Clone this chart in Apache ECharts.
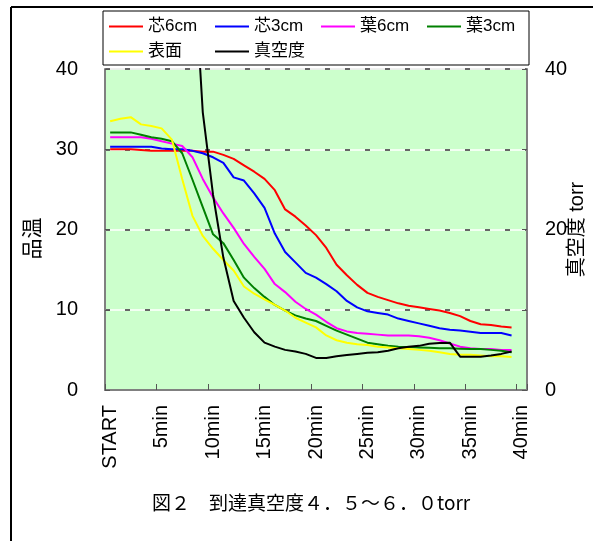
<!DOCTYPE html>
<html>
<head>
<meta charset="utf-8">
<script src="https://cdn.jsdelivr.net/npm/echarts@6/dist/echarts.min.js"></script>
<style>
  html, body { margin: 0; padding: 0; background: #fff; }
  #main { width: 593px; height: 541px; }
</style>
</head>
<body>
<div id="main"></div>
<script>
// 横軸 (1分ごと)
const categories = ['START', '1min', '2min', '3min', '4min', '5min', '6min', '7min', '8min', '9min',
  '10min', '11min', '12min', '13min', '14min', '15min', '16min', '17min', '18min', '19min',
  '20min', '21min', '22min', '23min', '24min', '25min', '26min', '27min', '28min', '29min',
  '30min', '31min', '32min', '33min', '34min', '35min', '36min', '37min', '38min', '39min', '40min']

// 品温
const core6 = [30.0, 30.0, 30.0, 29.9, 29.8, 29.8, 29.8, 29.8, 29.8, 29.7,
  29.7, 29.3, 28.8, 28.0, 27.2, 26.3, 24.9, 22.5, 21.6, 20.5,
  19.3, 17.7, 15.6, 14.3, 13.1, 12.1, 11.6, 11.2, 10.8, 10.5,
  10.3, 10.1, 9.9, 9.6, 9.2, 8.6, 8.2, 8.1, 7.9, 7.8]
const core3 = [30.3, 30.3, 30.3, 30.3, 30.3, 30.1, 30.0, 30.0, 29.8, 29.5,
  29.0, 28.3, 26.5, 26.1, 24.5, 22.7, 19.5, 17.2, 15.9, 14.6,
  14.0, 13.2, 12.3, 11.1, 10.3, 9.8, 9.6, 9.4, 8.9, 8.6,
  8.3, 8.0, 7.7, 7.5, 7.4, 7.25, 7.1, 7.1, 7.1, 6.8]
const leaf6 = [31.5, 31.5, 31.5, 31.5, 31.3, 31.0, 30.7, 30.4, 29.0, 26.3,
  24.0, 22.0, 20.2, 18.2, 16.6, 15.1, 13.2, 12.2, 11.0, 10.1,
  9.4, 8.5, 7.7, 7.3, 7.1, 7.0, 6.9, 6.8, 6.8, 6.8,
  6.7, 6.5, 6.2, 5.8, 5.4, 5.2, 5.1, 5.1, 5.0, 5.0]
const leaf3 = [32.1, 32.1, 32.1, 31.8, 31.5, 31.3, 31.0, 29.5, 26.2, 22.8,
  19.4, 18.3, 16.2, 14.0, 12.7, 11.6, 10.6, 9.9, 9.3, 8.9,
  8.6, 8.0, 7.4, 6.9, 6.4, 5.9, 5.7, 5.5, 5.4, 5.35,
  5.3, 5.25, 5.2, 5.2, 5.15, 5.1, 5.1, 5.0, 4.9, 4.7]
const surface = [33.5, 33.8, 34.0, 33.1, 32.9, 32.6, 31.2, 26.3, 21.7, 19.2,
  17.6, 16.2, 14.9, 12.9, 12.0, 11.3, 10.6, 9.9, 9.0, 8.4,
  7.8, 6.8, 6.2, 5.9, 5.7, 5.6, 5.4, 5.3, 5.2, 5.1,
  5.0, 4.9, 4.7, 4.5, 4.4, 4.4, 4.3, 4.2, 4.2, 4.1]
// 真空度 torr
const vacuum = [null, null, null, null, null, null, null, null, 56, 34.6,
  24.3, 16.5, 11.1, 9.0, 7.2, 5.9, 5.4, 5.0, 4.8, 4.5,
  4.0, 4.0, 4.2, 4.35, 4.5, 4.65, 4.7, 4.9, 5.2, 5.4,
  5.5, 5.75, 5.85, 5.9, 4.15, 4.15, 4.15, 4.3, 4.5, 4.8]

const leftTicks = [0, 10, 20, 30, 40]
const rightTicks = [0, 20, 40]

const FONT = 'Liberation Sans, Arial, Noto Sans CJK JP'

const mk = (name, data, color, axis) => ({
  name,
  type: 'line',
  data,
  yAxisIndex: axis,
  symbol: 'none',
  connectNulls: false,
  lineStyle: { color, width: 2 },
  itemStyle: { color },
  animation: false
})

const chart = echarts.init(document.getElementById('main'))
chart.setOption({
  backgroundColor: '#fff',
  animation: false,
  grid: {
    left: 105, right: 66, top: 69, bottom: 151,
    outerBoundsMode: 'none',
    containLabel: false,
    show: true,
    backgroundColor: '#ccffcc',
    borderColor: '#808080',
    borderWidth: 1
  },
  legend: {
    left: 103, top: 11,
    width: 424,
    padding: [6, 2, 4, 6],
    itemGap: 6,
    itemWidth: 34,
    itemHeight: 2,
    icon: 'rect',
    symbolKeepAspect: false,
    borderColor: '#000',
    borderWidth: 1,
    borderRadius: 0,
    backgroundColor: '#fff',
    textStyle: { fontSize: 17, fontFamily: FONT, color: '#000', width: 61, lineHeight: 19 },
    data: ['芯6cm', '芯3cm', '葉6cm', '葉3cm', '表面', '真空度']
  },
  xAxis: {
    type: 'category',
    data: categories,
    boundaryGap: true,
    axisLine: { lineStyle: { color: '#808080', width: 2 } },
    axisTick: { show: true, inside: true, length: 6, interval: 4, lineStyle: { color: '#555' } },
    axisLabel: {
      interval: 4,
      rotate: 90,
      margin: 15,
      fontSize: 20,
      fontFamily: FONT,
      color: '#000'
    },
    splitLine: { show: false }
  },
  yAxis: [
    {
      type: 'value',
      min: 0, max: 40, interval: 10,
      position: 'left',
      name: '品温',
      nameLocation: 'middle',
      nameRotate: 90,
      nameGap: 63,
      nameMoveOverlap: false,
      nameTextStyle: { fontSize: 21, fontFamily: 'Noto Sans CJK JP', color: '#000', padding: [0, 18, 0, 0] },
      axisLine: { show: true, lineStyle: { color: '#808080', width: 2 } },
      axisTick: { show: true, inside: true, length: 5, lineStyle: { color: '#555' } },
      axisLabel: {
        margin: 27, fontSize: 20, fontFamily: FONT, color: '#000',
        formatter: v => leftTicks.includes(v) ? String(v) : ''
      },
      splitLine: { show: true, lineStyle: { color: '#ffffff', width: 1.5 } }
    },
    {
      type: 'value',
      min: 0, max: 40, interval: 10,
      position: 'right',
      name: '真空度 torr',
      nameLocation: 'middle',
      nameRotate: 90,
      nameGap: 40,
      nameMoveOverlap: false,
      nameTextStyle: { fontSize: 20, fontFamily: FONT, color: '#000' },
      axisLine: { show: true, lineStyle: { color: '#808080', width: 2 } },
      axisTick: { show: true, inside: true, length: 5, lineStyle: { color: '#555' } },
      axisLabel: {
        margin: 18, fontSize: 20, fontFamily: FONT, color: '#000',
        formatter: v => rightTicks.includes(v) ? String(v) : ''
      },
      splitLine: { show: true, lineStyle: { color: '#666', width: 2, type: [5, 15] } }
    }
  ],
  series: [
    mk('芯6cm', core6, '#ff0000', 0),
    mk('芯3cm', core3, '#0000ff', 0),
    mk('葉6cm', leaf6, '#ff00ff', 0),
    mk('葉3cm', leaf3, '#008000', 0),
    mk('表面', surface, '#ffff00', 0),
    mk('真空度', vacuum, '#000000', 1)
  ],
  graphic: [
    // 外枠
    { type: 'line', shape: { x1: 11, y1: 7, x2: 593, y2: 7 }, style: { stroke: '#000', lineWidth: 2 }, silent: true },
    { type: 'line', shape: { x1: 11, y1: 7, x2: 11, y2: 541 }, style: { stroke: '#000', lineWidth: 2 }, silent: true },
    {
      type: 'text',
      left: 152, top: 493,
      style: {
        text: '図２　到達真空度４．５～６．０torr',
        font: '19px "Noto Sans CJK JP"',
        fill: '#000'
      }
    }
  ]
})
</script>
</body>
</html>
